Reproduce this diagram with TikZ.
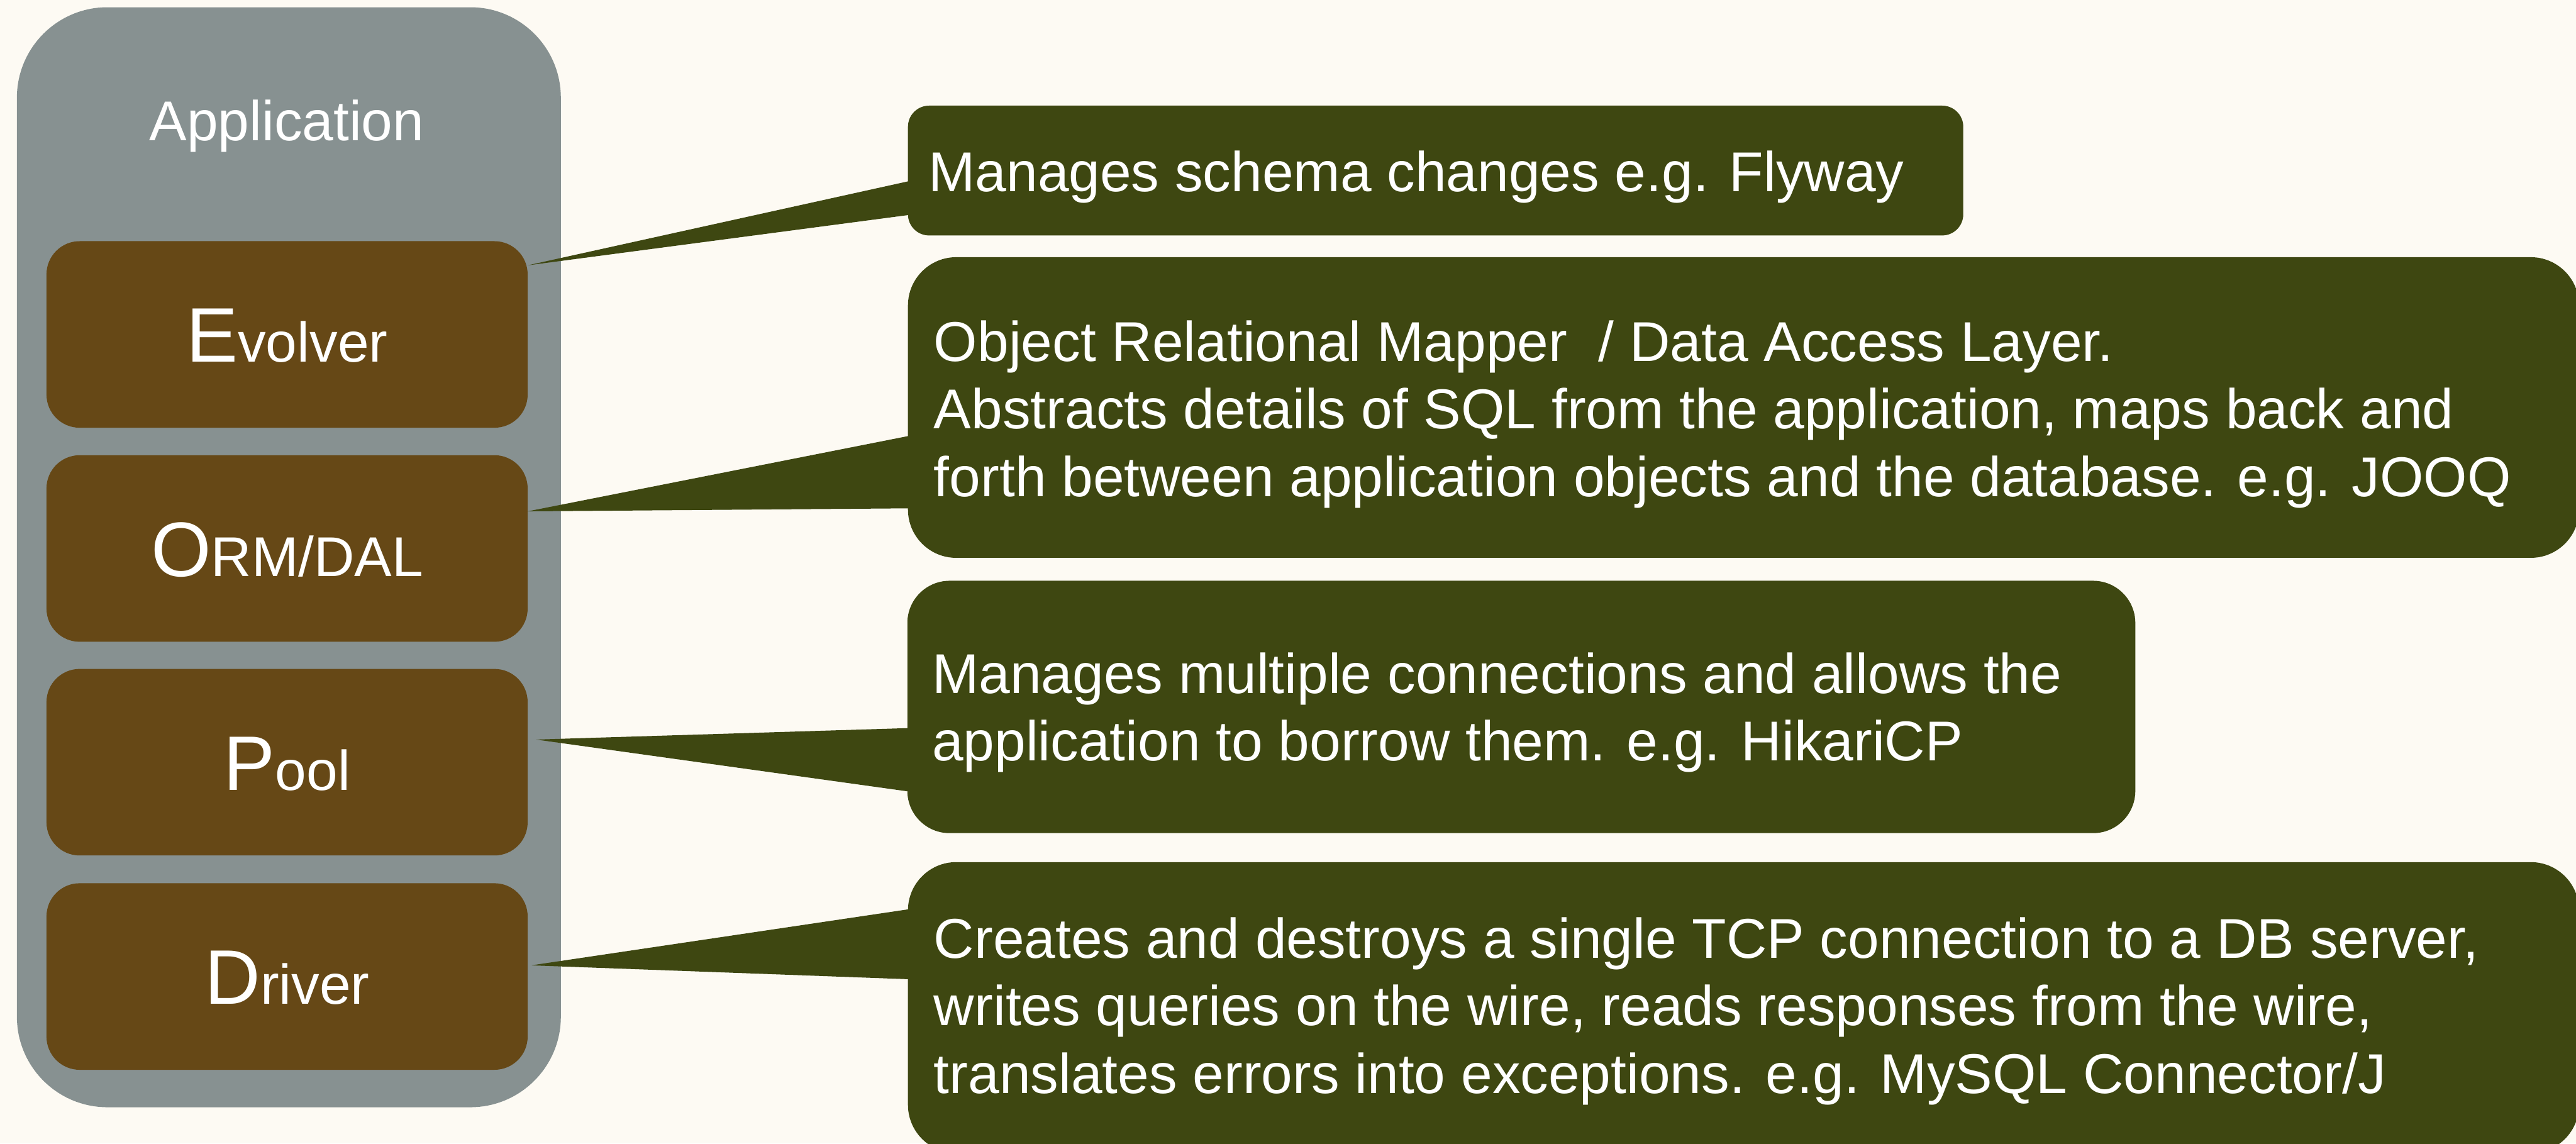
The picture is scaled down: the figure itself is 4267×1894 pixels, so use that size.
\documentclass[tikz,border=0pt]{standalone}
\usepackage{fontspec}
\setmainfont{Liberation Sans}
\usetikzlibrary{calc}
\definecolor{paper}{HTML}{FDFAF3}
\definecolor{appgray}{HTML}{879191}
\definecolor{layerbrown}{HTML}{664816}
\definecolor{noteolive}{HTML}{3E4711}
% enlarged first letter of a layer name
\newcommand\firstcap[1]{{\fontsize{25.6}{30}\selectfont #1}}
\begin{document}
\begin{tikzpicture}[x=0.2pt,y=-0.2pt,
  app/.style={fill=appgray, rounded corners=30pt, inner sep=0pt, outer sep=0pt,
    minimum width=180.2pt, minimum height=364.4pt},
  layer/.style={fill=layerbrown, rounded corners=11pt, inner sep=0pt, outer sep=0pt,
    minimum width=159.4pt, minimum height=61.8pt},
  note/.style={fill=noteolive, inner sep=0pt, outer sep=0pt},
  tail/.style={fill=noteolive},
  lbl/.style={text=white, inner sep=0pt, anchor=base,
    font=\fontsize{18.6}{22.4}\selectfont},
  % multi-line texts are placed by the baseline of their last line
  notetext/.style={text=white, inner sep=0pt, anchor=base west, align=left,
    font=\fontsize{18.6}{22.4}\selectfont},
]
% canvas
\fill[paper] (0,0) rectangle (4267,1894);
\useasboundingbox (0,0) rectangle (4267,1894);

% application column with its four layers
\node[app] (app) at (478.5,923) {};
\node[lbl] (apptitle) at (475,233) {Application};
\node[layer] (evolver) at (475.5,554) {};
\node[layer] (orm)     at (475.5,908.5) {};
\node[layer] (pool)    at (475.5,1262.5) {};
\node[layer] (driver)  at (475.5,1617.5) {};

\node[lbl] (evolvertxt) at ($(evolver.center)+(0,46)$) {\firstcap{E}volver};
\node[lbl] (ormtxt)     at ($(orm.center)+(0,46)$)     {\firstcap{O}RM/DAL};
\node[lbl] (pooltxt)    at ($(pool.center)+(0,46)$)    {\firstcap{P}ool};
\node[lbl] (drivertxt)  at ($(driver.center)+(0,46)$)  {\firstcap{D}river};

% speech-bubble callouts
\node[note, rounded corners=7pt,  minimum width=349.6pt, minimum height=43pt]   (c1) at (2378,282.5) {};
\node[note, rounded corners=16pt, minimum width=553.6pt, minimum height=99.6pt] (c2) at (2888,675) {};
\node[note, rounded corners=14pt, minimum width=406.8pt, minimum height=83.6pt] (c3) at (2520,1171) {};
\node[note, rounded corners=16pt, minimum width=553.6pt, minimum height=96.4pt] (c4) at (2888,1669) {};

% bubble tails pointing at each layer
\fill[tail] ($(evolver.north east)+(0,40)$) -- ($(c1.north west)+(2,125)$) -- ($(c1.north west)+(2,181)$) -- cycle;
\fill[tail] ($(orm.north east)+(0,93)$)     -- ($(c2.north west)+(2,296)$) -- ($(c2.north west)+(2,416)$) -- cycle;
\fill[tail] ($(pool.north east)+(14,117)$)  -- ($(c3.north west)+(2,244)$) -- ($(c3.north west)+(2,349)$) -- cycle;
\fill[tail] ($(driver.north east)+(6,136)$) -- ($(c4.north west)+(2,78)$)  -- ($(c4.north west)+(2,194)$) -- cycle;

% callout texts
\node[notetext] (c1txt) at ($(c1.north west)+(33,142)$) {Manages schema changes e.g. Flyway};
\node[notetext] (c2txt) at ($(c2.north west)+(42,396)$) {Object Relational Mapper~ / Data Access Layer.\\
Abstracts details of SQL from the application, maps back and\\
forth between application objects and the database. e.g. JOOQ};
\node[notetext] (c3txt) at ($(c3.north west)+(40,298)$) {Manages multiple connections and allows the\\
application to borrow them. e.g. HikariCP};
\node[notetext] (c4txt) at ($(c4.north west)+(42,383)$) {Creates and destroys a single TCP connection to a DB server,\\
writes queries on the wire, reads responses from the wire,\\
translates errors into exceptions. e.g. MySQL Connector/J};
\end{tikzpicture}
\end{document}
